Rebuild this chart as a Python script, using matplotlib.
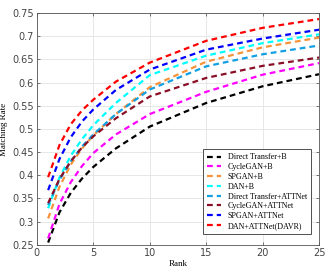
import matplotlib
matplotlib.use('Agg')
import matplotlib.pyplot as plt

ranks = [1, 2, 3, 4, 5, 7, 10, 15, 20, 25]

direct_b = [0.255, 0.32, 0.362, 0.393, 0.418, 0.458, 0.505, 0.556, 0.592, 0.618]
cyclegan_b = [0.264, 0.338, 0.385, 0.42, 0.448, 0.488, 0.532, 0.58, 0.617, 0.642]
spgan_b = [0.307, 0.375, 0.423, 0.458, 0.486, 0.532, 0.59, 0.645, 0.676, 0.697]
dan_b = [0.329, 0.395, 0.442, 0.478, 0.508, 0.556, 0.616, 0.658, 0.685, 0.704]
direct_att = [0.336, 0.39, 0.43, 0.462, 0.488, 0.532, 0.585, 0.635, 0.661, 0.68]
cyclegan_att = [0.34, 0.392, 0.43, 0.46, 0.484, 0.523, 0.57, 0.61, 0.636, 0.654]
spgan_att = [0.368, 0.435, 0.482, 0.516, 0.542, 0.584, 0.628, 0.671, 0.695, 0.714]
dan_att = [0.396, 0.465, 0.51, 0.54, 0.563, 0.602, 0.643, 0.69, 0.718, 0.737]

labels = ['Direct Transfer+B', 'CycleGAN+B', 'SPGAN+B', 'DAN+B',
          'Direct Transfer+ATTNet', 'CycleGAN+ATTNet', 'SPGAN+ATTNet',
          'DAN+ATTNet(DAVR)']
series = [direct_b, cyclegan_b, spgan_b, dan_b,
          direct_att, cyclegan_att, spgan_att, dan_att]
colors = ['#000000', '#ff00ff', '#f7923a', '#00ffff',
          '#129fe3', '#8a0f26', '#0000ff', '#ff0000']

fig = plt.figure(figsize=(3.32, 2.77), dpi=100)
ax = fig.add_axes([0.111, 0.116, 0.85, 0.837])

for y, lab, c in zip(series, labels, colors):
    ax.plot(ranks, y, color=c, lw=1.6, ls=(0, (2.6, 1.8)), label=lab)

ax.set_xlim(0, 25)
ax.set_ylim(0.25, 0.75)
ax.set_xticks([0, 5, 10, 15, 20, 25])
yt = [0.25, 0.3, 0.35, 0.4, 0.45, 0.5, 0.55, 0.6, 0.65, 0.7, 0.75]
ax.set_yticks(yt)
ax.set_yticklabels([('%g' % v) for v in yt])
ax.grid(True, color='#e3e3e3', lw=0.6)
ax.tick_params(direction='in', length=2.5, width=0.5, labelsize=7,
               colors='#444444', top=True, right=True, pad=2)
for s in ax.spines.values():
    s.set_color('#555555')
    s.set_linewidth(0.6)

ax.set_xlabel('Rank', family='Liberation Serif', fontsize=6.5, labelpad=2)
ax.set_ylabel('Matching Rate', family='Liberation Serif', fontsize=6.5, labelpad=3)

leg = ax.legend(loc='lower right', bbox_to_anchor=(0.985, 0.03),
                prop={'family': 'Liberation Serif', 'size': 5.8},
                handlelength=1.8, handletextpad=0.8, labelspacing=0.22,
                borderpad=0.5, fancybox=False, framealpha=1)
leg.get_frame().set_edgecolor('#333333')
leg.get_frame().set_linewidth(0.6)

fig.savefig('out.png', dpi=100)
